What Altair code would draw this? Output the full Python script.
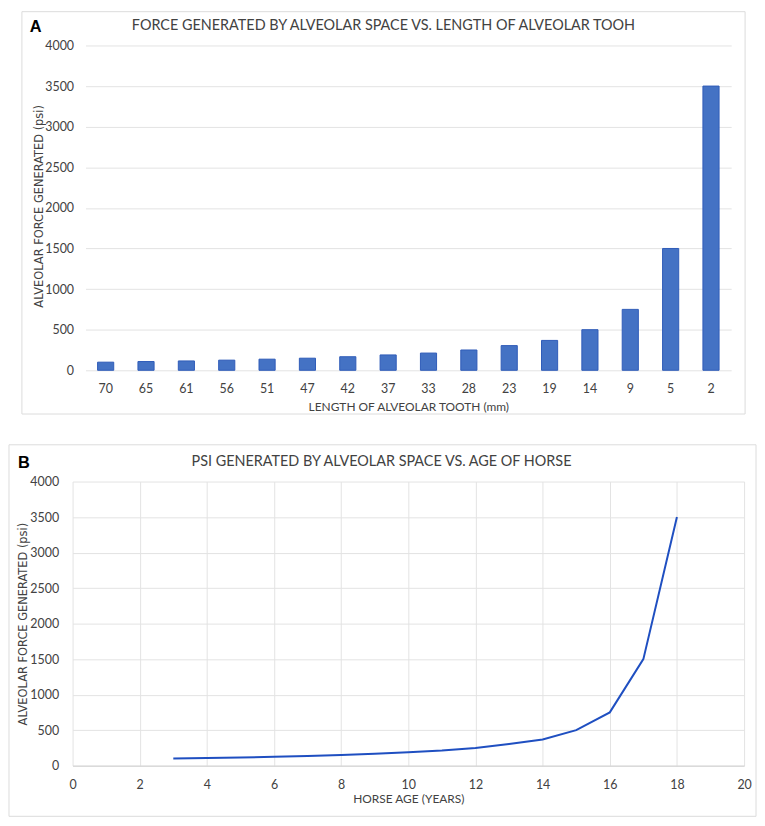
import altair as alt
import pandas as pd

# ---- data ----
tooth_length_mm = ["70", "65", "61", "56", "51", "47", "42", "37", "33", "28", "23", "19", "14", "9", "5", "2"]
force_psi = [100, 108, 115, 125, 137, 149, 167, 189, 212, 250, 304, 368, 500, 750, 1500, 3500]

horse_age = [3, 4, 5, 6, 7, 8, 9, 10, 11, 12, 13, 14, 15, 16, 17, 18]
age_psi = [100, 108, 115, 125, 137, 149, 167, 189, 212, 250, 304, 368, 500, 750, 1500, 3500]

y_ticks = [0, 500, 1000, 1500, 2000, 2500, 3000, 3500, 4000]
x_ticks_b = [0, 2, 4, 6, 8, 10, 12, 14, 16, 18, 20]

title_a = "FORCE GENERATED BY ALVEOLAR SPACE VS. LENGTH OF ALVEOLAR TOOH"
title_b = "PSI GENERATED BY ALVEOLAR SPACE VS. AGE OF HORSE"
y_title = "ALVEOLAR FORCE GENERATED (psi)"
x_title_a = "LENGTH OF ALVEOLAR TOOTH (mm)"
x_title_b = "HORSE AGE (YEARS)"

df_a = pd.DataFrame({"length": tooth_length_mm, "force": force_psi})
df_b = pd.DataFrame({"age": horse_age, "psi": age_psi})
one = pd.DataFrame({"k": [0]})

TXT = "#424242"
FONT = "Lato"
GRID = "#e3e3e3"
FRAME = "#dcdcdc"

WA, HA = 650, 327
WB, HB = 676, 286

# ---------------- Panel A ----------------
frame_a = alt.Chart(one).mark_rect(fillOpacity=0, stroke=FRAME, strokeWidth=1).encode(
    x=alt.value(-64), x2=alt.value(664), y=alt.value(-34), y2=alt.value(371)
)
letter_a = alt.Chart(one).mark_text(
    text="A", font="Liberation Sans", fontWeight="bold", fontSize=16.5, color="black",
    align="left", baseline="alphabetic"
).encode(x=alt.value(-56), y=alt.value(-14))
head_a = alt.Chart(one).mark_text(
    text=title_a, font=FONT, fontSize=14.5, color=TXT, align="center", baseline="alphabetic"
).encode(x=alt.value(300), y=alt.value(-16))

bars = alt.Chart(df_a).mark_bar(color="#4472c4", stroke="#2f5cb8", strokeWidth=1).encode(
    x=alt.X(
        "length:N", sort=tooth_length_mm,
        scale=alt.Scale(paddingInner=0.6, paddingOuter=0.3),
        axis=alt.Axis(
            title=x_title_a, labelAngle=0, ticks=False, tickSize=0, domain=False, grid=False,
            labelFont=FONT, labelFontSize=12.5, labelColor=TXT, labelBaseline="alphabetic",
            labelPadding=22.5,
            titleFont=FONT, titleFontSize=12, titleFontWeight="normal", titleColor=TXT,
            titleBaseline="alphabetic", titleY=40, titleX=WA / 2,
        ),
    ),
    y=alt.Y(
        "force:Q",
        scale=alt.Scale(domain=[0, 4000], nice=False),
        axis=alt.Axis(
            values=y_ticks, format="d", title=y_title, ticks=False, tickSize=0, domain=False,
            grid=True, gridColor=GRID,
            labelFont=FONT, labelFontSize=12.5, labelColor=TXT, labelPadding=12,
            titleFont="DejaVu Sans", titleFontSize=11.5, titleFontWeight="normal", titleColor=TXT,
            titleAngle=270, titleBaseline="alphabetic", titleAlign="center",
            titleX=-43, titleY=HA / 2 - 2,
        ),
    ),
)

panel_a = alt.layer(frame_a, bars, letter_a, head_a).properties(width=WA, height=HA)

# ---------------- Panel B ----------------
frame_b = alt.Chart(one).mark_rect(fillOpacity=0, stroke=FRAME, strokeWidth=1).encode(
    x=alt.value(-64), x2=alt.value(688), y=alt.value(-37), y2=alt.value(337)
)
letter_b = alt.Chart(one).mark_text(
    text="B", font="Liberation Sans", fontWeight="bold", fontSize=16.5, color="black",
    align="left", baseline="alphabetic"
).encode(x=alt.value(-55), y=alt.value(-14))
head_b = alt.Chart(one).mark_text(
    text=title_b, font=FONT, fontSize=14.5, color=TXT, align="center", baseline="alphabetic"
).encode(x=alt.value(311), y=alt.value(-16))

line = alt.Chart(df_b).mark_line(color="#1f4fc1", strokeWidth=2).encode(
    x=alt.X(
        "age:Q",
        scale=alt.Scale(domain=[0, 20], nice=False),
        axis=alt.Axis(
            values=x_ticks_b, format="d", title=x_title_b, ticks=False, tickSize=0,
            domain=True, domainColor="#d0d0d0", grid=True, gridColor=GRID,
            labelFont=FONT, labelFontSize=12.5, labelColor=TXT, labelBaseline="alphabetic",
            labelPadding=22.5, labelFlush=False,
            titleFont=FONT, titleFontSize=12, titleFontWeight="normal", titleColor=TXT,
            titleBaseline="alphabetic", titleY=37, titleX=WB / 2,
        ),
    ),
    y=alt.Y(
        "psi:Q",
        scale=alt.Scale(domain=[0, 4000], nice=False),
        axis=alt.Axis(
            values=y_ticks, format="d", title=y_title, ticks=False, tickSize=0, domain=False,
            grid=True, gridColor=GRID,
            labelFont=FONT, labelFontSize=12.5, labelColor=TXT, labelPadding=14,
            titleFont="DejaVu Sans", titleFontSize=11.5, titleFontWeight="normal", titleColor=TXT,
            titleAngle=270, titleBaseline="alphabetic", titleAlign="center",
            titleX=-46, titleY=HB / 2,
        ),
    ),
)

panel_b = alt.layer(frame_b, line, letter_b, head_b).properties(width=WB, height=HB)

chart = alt.VConcatChart(
    vconcat=[panel_a, panel_b], spacing=112, center=True, bounds="flush"
).properties(padding=0, background="white").configure_view(strokeWidth=0)

chart.save("out.html", embed_options={"renderer": "svg", "actions": False})
